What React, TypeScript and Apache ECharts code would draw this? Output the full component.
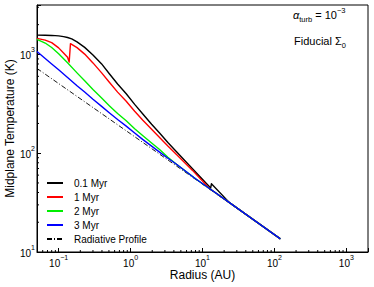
import React, { useEffect, useRef } from 'react';
import * as echarts from 'echarts';

// Radius (AU) and midplane temperature (K)
const R_01 = [0.05, 0.065, 0.08, 0.1, 0.117, 0.133, 0.152, 0.18, 0.23, 0.3, 0.396, 0.51, 0.66, 0.87, 1.14, 1.47, 1.96, 2.53, 3.3, 4.35, 7.26, 12.5, 12.9, 13.3, 23.7, 121];
const T_01 = [1567, 1563, 1556, 1538, 1513, 1482, 1437, 1339, 1178, 988, 801, 634, 502, 400, 312, 251, 196, 160, 128.5, 103.5, 69.7, 45.7, 43.3, 49.0, 31.6, 13.6];

const R_1 = [0.05, 0.065, 0.08, 0.1, 0.117, 0.133, 0.138, 0.140, 0.146, 0.18, 0.23, 0.3, 0.396, 0.51, 0.66, 0.87, 1.14, 1.47, 1.96, 2.53, 3.3, 4.35, 7.26, 12.5, 23.7, 121];
const T_1 = [1453, 1393, 1314, 1164, 1035, 934, 860, 836, 1285, 1170, 1007, 820, 650, 520, 415, 335, 266, 217, 175, 144, 118, 96.8, 67.0, 43.9, 31.6, 13.6];

const R_2 = [0.05, 0.065, 0.08, 0.1, 0.133, 0.18, 0.23, 0.3, 0.396, 0.51, 0.66, 0.87, 1.14, 1.47, 1.96, 2.53, 3.3, 4.35, 8.0, 12.5, 23.7, 121];
const T_2 = [1419, 1303, 1173, 1014, 822, 650, 541, 441, 361, 301, 252, 213, 177, 151, 127, 109, 91, 77.3, 55.1, 43.9, 31.6, 13.6];

const R_3 = [0.05, 0.065, 0.08, 0.1, 0.133, 0.18, 0.23, 0.3, 0.396, 0.51, 0.66, 0.87, 1.14, 1.47, 1.96, 2.53, 3.3, 4.35, 8.0, 12.5, 23.7, 121];
const T_3 = [1072, 910, 801, 698, 583, 482, 416, 352, 298, 255, 219, 188, 160, 138, 118, 102.5, 89, 77.3, 55.1, 43.9, 31.6, 13.6];

const R_RAD = [0.05, 1, 121];
const T_RAD = [721, 157, 13.6];

const SERIES_NAMES = ['0.1 Myr', '1 Myr', '2 Myr', '3 Myr', 'Radiative Profile'];
const SERIES_COLORS = ['#000000', '#ff0000', '#00ee00', '#0000ff', '#000000'];

const X_MIN = 0.05;
const X_MAX = 2000;
const Y_MIN = 10;
const Y_MAX = 3162;

const X_MINOR = [0.06, 0.07, 0.08, 0.09, 0.2, 0.3, 0.4, 0.5, 0.6, 0.7, 0.8, 0.9, 2, 3, 4, 5, 6, 7, 8, 9, 20, 30, 40, 50, 60, 70, 80, 90, 200, 300, 400, 500, 600, 700, 800, 900];
const Y_MINOR = [20, 30, 40, 50, 60, 70, 80, 90, 200, 300, 400, 500, 600, 700, 800, 900, 2000, 3000];

const FONT = '"Liberation Sans", Arial, Helvetica, sans-serif';

const zip = (a: number[], b: number[]) => a.map((v, i) => [v, b[i]]);

const powLabel = (v: number) => {
  const e = Math.log10(v);
  const r = Math.round(e);
  if (Math.abs(e - r) > 1e-6) return '';
  return `{b|10}{e|${r < 0 ? '\u2212' + -r : r}}`;
};

const labelRich = {
  b: { fontSize: 10, fontFamily: FONT, color: '#000', verticalAlign: 'bottom', lineHeight: 12 },
  e: { fontSize: 7, fontFamily: FONT, color: '#000', verticalAlign: 'bottom', lineHeight: 12, padding: [0, 0, 7, 0] },
};

export default function App() {
  const ref = useRef<HTMLDivElement>(null);
  useEffect(() => {
    if (!ref.current) return;
    const chart = echarts.init(ref.current, null, { renderer: 'svg' });
    const data = [zip(R_01, T_01), zip(R_1, T_1), zip(R_2, T_2), zip(R_3, T_3), zip(R_RAD, T_RAD)];
    const lineSeries = data.map((d, i) => ({
      type: 'line',
      name: SERIES_NAMES[i],
      data: d,
      symbol: 'none',
      showSymbol: false,
      z: i === 4 ? 1 : 2 + i,
      lineStyle: i === 4
        ? { color: SERIES_COLORS[i], width: 0.9, type: [5, 2, 1, 2] }
        : { color: SERIES_COLORS[i], width: 1.4, join: 'round' },
      itemStyle: { color: SERIES_COLORS[i] },
      emphasis: { disabled: true },
    }));
    chart.setOption({
      animation: false,
      grid: { left: 37, top: 5, right: 6, bottom: 35, show: true, borderColor: '#000', borderWidth: 1, containLabel: false, outerBoundsMode: 'none' },
      legend: {
        data: SERIES_NAMES,
        orient: 'vertical',
        left: 46,
        top: 178,
        padding: 0,
        itemWidth: 16,
        itemHeight: 10,
        itemGap: 4,
        itemStyle: { opacity: 0 },
        textStyle: { fontSize: 10, fontFamily: FONT, color: '#000', padding: [0, 0, 0, 6] },
        selectedMode: false,
      },
      xAxis: {
        type: 'log',
        logBase: 10,
        min: X_MIN,
        max: X_MAX,
        name: 'Radius (AU)',
        nameLocation: 'middle',
        nameGap: 17,
        nameMoveOverlap: false,
        nameTextStyle: { fontSize: 12, fontFamily: FONT, color: '#000' },
        axisLine: { show: true, lineStyle: { color: '#000', width: 1 } },
        axisTick: { show: true, inside: true, length: 4, lineStyle: { color: '#000' } },
        axisLabel: { margin: 4, formatter: powLabel, rich: labelRich, showMinLabel: true, showMaxLabel: true },
        splitLine: { show: false },
      },
      yAxis: {
        type: 'log',
        logBase: 10,
        min: Y_MIN,
        max: Y_MAX,
        name: 'Midplane Temperature (K)',
        nameLocation: 'middle',
        nameGap: 21,
        nameMoveOverlap: false,
        nameTextStyle: { fontSize: 12, fontFamily: FONT, color: '#000' },
        axisLine: { show: true, lineStyle: { color: '#000', width: 1 } },
        axisTick: { show: true, inside: true, length: 4, lineStyle: { color: '#000' } },
        axisLabel: { margin: 2, formatter: powLabel, rich: labelRich },
        splitLine: { show: false },
      },
      graphic: [
        {
          type: 'text',
          x: 293,
          y: 16,
          silent: true,
          style: {
            text: '{a|\u03b1}{s|turb}{n| = 10}{p|\u22123}',
            verticalAlign: 'middle',
            align: 'left',
            rich: {
              a: { fontSize: 11, fontFamily: FONT, fontStyle: 'italic', fill: '#000', verticalAlign: 'bottom', lineHeight: 14, padding: [0, 0, 3, 0] },
              s: { fontSize: 7.5, fontFamily: FONT, fill: '#000', verticalAlign: 'bottom', lineHeight: 14 },
              n: { fontSize: 11, fontFamily: FONT, fill: '#000', verticalAlign: 'bottom', lineHeight: 14, padding: [0, 0, 3, 0] },
              p: { fontSize: 7.5, fontFamily: FONT, fill: '#000', verticalAlign: 'bottom', lineHeight: 14, padding: [0, 0, 9, 0] },
            },
          },
        },
        {
          type: 'text',
          x: 294,
          y: 42,
          silent: true,
          style: {
            text: '{n|Fiducial \u03a3}{s|0}',
            verticalAlign: 'middle',
            align: 'left',
            rich: {
              n: { fontSize: 11, fontFamily: FONT, fill: '#000', verticalAlign: 'bottom', lineHeight: 14, padding: [0, 0, 3, 0] },
              s: { fontSize: 7.5, fontFamily: FONT, fill: '#000', verticalAlign: 'bottom', lineHeight: 14 },
            },
          },
        },
      ],
      series: [
        ...lineSeries,
        {
          type: 'custom',
          name: 'xminor',
          silent: true,
          data: X_MINOR.map((v) => [v, Y_MIN]),
          renderItem: (params: any, api: any) => {
            const p = api.coord([api.value(0), api.value(1)]);
            return { type: 'line', shape: { x1: p[0], y1: p[1], x2: p[0], y2: p[1] - 2 }, style: { stroke: '#000', lineWidth: 1 } };
          },
        },
        {
          type: 'custom',
          name: 'yminor',
          silent: true,
          data: Y_MINOR.map((v) => [X_MIN, v]),
          renderItem: (params: any, api: any) => {
            const p = api.coord([api.value(0), api.value(1)]);
            return { type: 'line', shape: { x1: p[0], y1: p[1], x2: p[0] + 2, y2: p[1] }, style: { stroke: '#000', lineWidth: 1 } };
          },
        },
      ],
    });
    return () => chart.dispose();
  }, []);
  return <div ref={ref} style={{ position: 'absolute', left: 0, top: 0, width: 374, height: 287 }} />;
}
